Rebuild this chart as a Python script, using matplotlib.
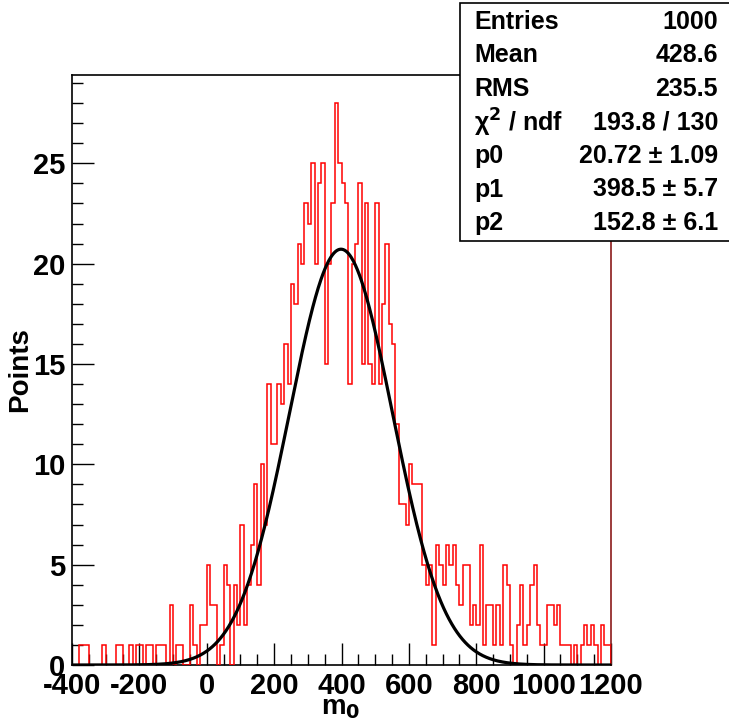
import numpy as np
import matplotlib
matplotlib.use("Agg")
import matplotlib.pyplot as plt
from matplotlib.patches import Rectangle

plt.rcParams['font.family'] = ['Liberation Sans', 'DejaVu Sans']
plt.rcParams['font.weight'] = 'bold'
plt.rcParams['axes.unicode_minus'] = False

# histogram: 160 bins of width 10 from -400 to 1200
x_min, x_max, bin_w = -400, 1200, 10
counts = [
    0, 0, 1, 1, 1, 0, 0, 0, 0, 1,        # -400 .. -310
    0, 0, 0, 1, 1, 0, 0, 1, 0, 1,        # -300 .. -210
    1, 0, 1, 1, 0, 1, 1, 1, 0, 3,        # -200 .. -110
    0, 1, 1, 0, 0, 3, 1, 0, 2, 2,        # -100 .. -10
    5, 3, 3, 0, 1, 5, 4, 0, 4, 2,        # 0 .. 90
    7, 2, 4, 6, 9, 4, 10, 7, 14, 11,     # 100 .. 190
    11, 14, 13, 16, 14, 19, 18, 21, 20, 23,  # 200 .. 290
    22, 25, 20, 24, 25, 15, 20, 23, 28, 25,  # 300 .. 390
    24, 23, 14, 20, 21, 24, 15, 23, 15, 14,  # 400 .. 490
    23, 14, 18, 21, 17, 16, 12, 8, 8, 7,     # 500 .. 590
    10, 9, 9, 9, 5, 4, 5, 1, 6, 5,       # 600 .. 690
    4, 6, 5, 6, 4, 3, 5, 5, 2, 3,        # 700 .. 790
    2, 6, 1, 3, 3, 1, 3, 1, 5, 4,        # 800 .. 890
    1, 0, 2, 4, 1, 2, 4, 5, 2, 1,        # 900 .. 990
    1, 3, 3, 2, 3, 1, 1, 1, 0, 1,        # 1000 .. 1090
    0, 1, 2, 1, 2, 1, 0, 2, 1, 1,        # 1100 .. 1190
]

# gaussian fit parameters
p0, p1, p2 = 20.72, 398.5, 152.8

stat_names = ["Entries", "Mean", "RMS", "χ$^{2}$ / ndf", "p0", "p1", "p2"]
stat_values = ["1000", "428.6", "235.5", "193.8 / 130",
               "20.72 ± 1.09", "398.5 ± 5.7", "152.8 ± 6.1"]

W, H = 729, 724
fig = plt.figure(figsize=(W / 100, H / 100), dpi=100)
ax = fig.add_axes([72 / W, 1 - 665 / H, (611 - 72) / W, (665 - 75) / H])

edges = np.arange(x_min, x_max + bin_w, bin_w)
ax.stairs(counts, edges, color='red', lw=1.1, baseline=0, zorder=3)

xf = np.linspace(x_min, x_max, 800)
ax.plot(xf, p0 * np.exp(-0.5 * ((xf - p1) / p2) ** 2), color='black', lw=2.3, zorder=4)

ax.set_xlim(x_min, x_max)
ax.set_ylim(0, 29.4)
ax.set_xticks(np.arange(-400, 1201, 200))
ax.set_xticks(np.arange(-400, 1201, 50), minor=True)
ax.set_yticks(np.arange(0, 26, 5))
ax.set_yticks(np.arange(0, 30, 1), minor=True)
ax.tick_params(axis='both', which='both', direction='in', top=False, right=False,
               labelsize=21, width=1)
ax.tick_params(axis='x', which='major', length=16, pad=5)
ax.tick_params(axis='x', which='minor', length=8)
ax.tick_params(axis='y', which='major', length=16, pad=5)
ax.tick_params(axis='y', which='minor', length=8)
for lab in ax.get_xticklabels() + ax.get_yticklabels():
    lab.set_fontweight('bold')
for s in ax.spines.values():
    s.set_linewidth(1.2)
ax.spines['right'].set_color('#8b1a1a')

# axis titles
fig.text(341 / W, 1 - 714 / H, "m$_{\\mathbf{0}}$", fontsize=20, fontweight='bold',
         ha='center', va='baseline')
ax.set_ylabel("Points", fontsize=20, fontweight='bold')
ax.yaxis.set_label_coords(-0.073, 0.5)

# stats box
bx0, by0 = 460 / W, 1 - 241 / H
box = Rectangle((bx0, by0), 1.0, (241 - 3) / H, transform=fig.transFigure,
                facecolor='white', edgecolor='black', lw=1.2, zorder=10)
fig.patches.append(box)
for i, (n, v) in enumerate(zip(stat_names, stat_values)):
    yy = 1 - (22 + i * 33.5) / H
    fig.text(474 / W, yy, n, fontsize=18, fontweight='bold', va='center', ha='left', zorder=11)
    fig.text(718 / W, yy, v, fontsize=18, fontweight='bold', va='center', ha='right', zorder=11)

fig.savefig("out.png", dpi=100)
